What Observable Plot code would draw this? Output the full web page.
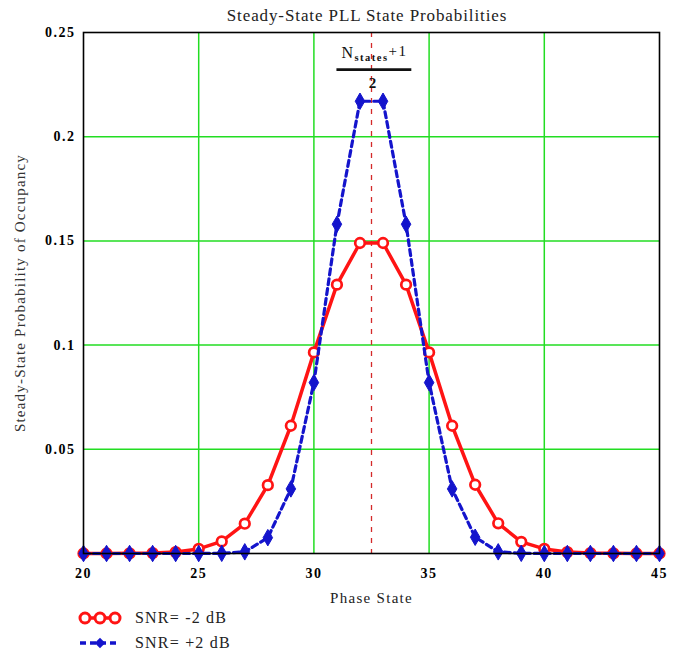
<!DOCTYPE html>
<html><head><meta charset="utf-8">
<script src="https://cdn.jsdelivr.net/npm/d3@7"></script>
<script src="https://cdn.jsdelivr.net/npm/@observablehq/plot@0.6"></script>
<style>
body{margin:0;background:#fff;font-family:"Liberation Serif",serif;}
#wrap{width:673px;height:653px;position:relative;overflow:hidden;}
#title{height:24px;line-height:31px;font-size:17px;letter-spacing:0.9px;text-align:center;padding-left:61px;box-sizing:border-box;width:673px;color:#222;white-space:nowrap;}
#legend{margin-top:-2px;}
.leg{display:flex;align-items:center;height:25px;font-size:16px;letter-spacing:1.2px;color:#222;}
.leg svg{margin-left:78px;margin-right:13px;}
g[aria-label="x-axis tick label"] text, g[aria-label="y-axis tick label"] text{letter-spacing:1.5px;}
</style>
</head><body>
<div id="wrap">
<div id="title"></div>
<div id="chart"></div>
<div id="legend"></div>
</div>
<script>
const chartTitle = "Steady-State PLL State Probabilities";
const xLabel = "Phase State";
const yLabel = "Steady-State Probability of Occupancy";
const seriesNames = ["SNR= -2 dB", "SNR= +2 dB"];
const phaseStates = [20,21,22,23,24,25,26,27,28,29,30,31,32,33,34,35,36,37,38,39,40,41,42,43,44,45];
const snrMinus2 = [0,0,0.0001,0.0002,0.0007,0.0022,0.0058,0.0143,0.0328,0.0613,0.0965,0.129,0.149,0.149,0.129,0.0965,0.0613,0.033,0.0145,0.0056,0.0022,0.0007,0.0002,0.0001,0,0];
const snrPlus2  = [0,0,0,0,0,0,0.0001,0.0008,0.0076,0.031,0.082,0.158,0.217,0.217,0.158,0.082,0.031,0.0078,0.0008,0.0001,0,0,0,0,0,0];
const xTicks = [20,25,30,35,40,45];
const yTicks = [0.05,0.1,0.15,0.2,0.25];
const gridX = [25,30,35,40];
const gridY = [0.05,0.1,0.15,0.2];
const centerState = [32.5];  // (N_states + 1)/2
const fractionBar = [{x1:31.0, x2:34.25, y:0.2322}];

const red = phaseStates.map((x,i)=>({x, y:snrMinus2[i]}));
const blue = phaseStates.map((x,i)=>({x, y:snrPlus2[i]}));
const RED = "#ff1414", BLUE = "#1414cc";

document.getElementById("title").textContent = chartTitle;

const plot = Plot.plot({
  width: 673, height: 583,
  marginLeft: 83, marginRight: 14, marginTop: 8, marginBottom: 54,
  style: {fontFamily:"'Liberation Serif', serif", fontSize:"14px", background:"white", color:"black"},
  x: {domain:[20,45]},
  y: {domain:[0,0.25]},
  marks: [
    Plot.ruleX(gridX, {stroke:"#22dd22", strokeWidth:1.5}),
    Plot.ruleY(gridY, {stroke:"#22dd22", strokeWidth:1.5}),
    Plot.ruleX(centerState, {stroke:"#d42a2a", strokeWidth:1.3, strokeDasharray:"5,6"}),
    Plot.line(red, {x:"x", y:"y", stroke:RED, strokeWidth:3.5}),
    Plot.dot(red, {x:"x", y:"y", r:4.8, fill:"white", stroke:RED, strokeWidth:2.7}),
    Plot.line(blue, {x:"x", y:"y", stroke:BLUE, strokeWidth:3.2, strokeDasharray:"6,4"}),
    Plot.dot(blue, {x:"x", y:"y", symbol:"diamond", r:5, fill:BLUE, stroke:BLUE, strokeWidth:1}),
    Plot.frame({stroke:"black", strokeWidth:1.6}),
    Plot.axisX({ticks:xTicks, tickSize:0, tickPadding:15, fontSize:14, fontWeight:"bold", label:null, tickFormat:d=>String(d)}),
    Plot.axisY({ticks:yTicks, tickSize:0, tickPadding:8, fontSize:14, fontWeight:"bold", label:null, tickFormat:d=>String(d)}),
    Plot.text([xLabel], {text:d=>d, frameAnchor:"bottom", lineAnchor:"middle", dy:45, fontSize:15, fill:"#222"}),
    Plot.text([yLabel], {text:d=>d, frameAnchor:"left", textAnchor:"middle", lineAnchor:"middle", rotate:-90, dx:-63, fontSize:15, fill:"#333"}),
    Plot.text(centerState, {x:d=>d, text:()=>"N", frameAnchor:"top", lineAnchor:"middle", dy:20, dx:3, fontSize:16, fill:"#111"}),
    Plot.ruleY(fractionBar, {y:"y", x1:"x1", x2:"x2", stroke:"#111", strokeWidth:2.8}),
    Plot.text(centerState, {x:d=>d, text:()=>"2", frameAnchor:"top", lineAnchor:"middle", dy:51, dx:1, fontSize:15, fontWeight:"bold", fill:"#111"})
  ]
});
document.getElementById("chart").appendChild(plot);

// letter spacing for labels, numerator with subscript
d3.select(plot).selectAll("text").each(function(){
  const t = d3.select(this);
  const s = this.textContent;
  if (s === xLabel) t.attr("letter-spacing", "1.3px");
  if (s === yLabel) t.attr("letter-spacing", "1.2px");
  if (s === "N") {
    t.text(null).attr("letter-spacing", "1.5px");
    t.append("tspan").text("N");
    t.append("tspan").attr("font-size", 10.5).attr("font-weight", "bold").attr("dy", "0.35em").text("states");
    t.append("tspan").attr("dy", "-0.35em").attr("font-size", 15).text("+1");
  }
});

// legend
const leg = d3.select("#legend");
const r1 = leg.append("div").attr("class","leg");
const s1 = r1.append("svg").attr("width",44).attr("height",16);
s1.append("line").attr("x1",2).attr("x2",42).attr("y1",8).attr("y2",8).attr("stroke",RED).attr("stroke-width",3.5);
[7,22,37].forEach(cx=>s1.append("circle").attr("cx",cx).attr("cy",8).attr("r",5).attr("fill","white").attr("stroke",RED).attr("stroke-width",3));
r1.append("span").text(seriesNames[0]);
const r2 = leg.append("div").attr("class","leg");
const s2 = r2.append("svg").attr("width",44).attr("height",16);
s2.append("line").attr("x1",2).attr("x2",42).attr("y1",8).attr("y2",8).attr("stroke",BLUE).attr("stroke-width",3.5).attr("stroke-dasharray","6,4");
s2.append("path").attr("d",d3.symbol(d3.symbolDiamond2, 70)()).attr("transform","translate(22,8)").attr("fill",BLUE);
r2.append("span").text(seriesNames[1]);
</script>
</body></html>
